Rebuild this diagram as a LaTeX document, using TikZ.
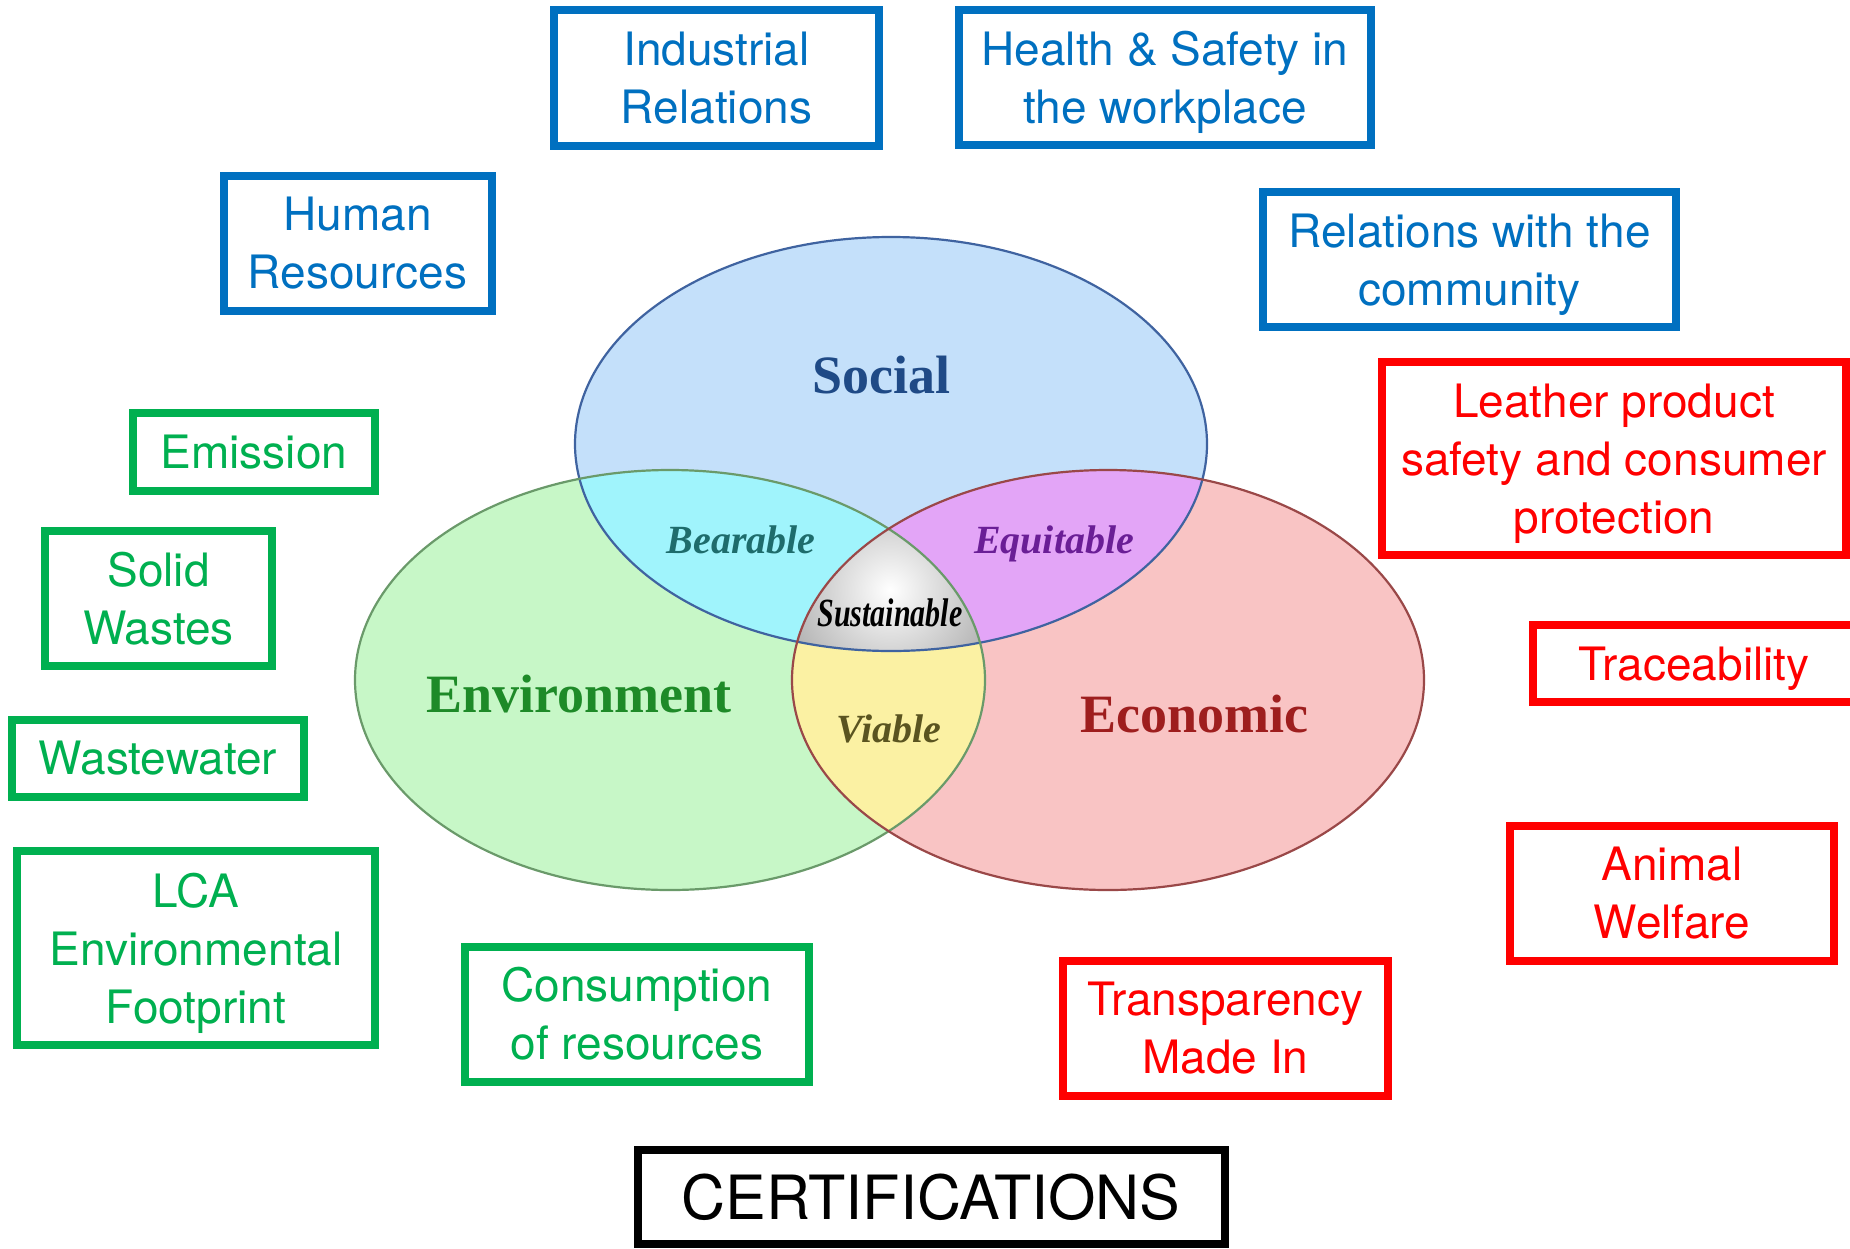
\documentclass[tikz,border=0pt]{standalone}
\usepackage{fontspec}
\setmainfont{TeX Gyre Heros}
\newfontfamily\lblserif{Liberation Serif}
\newcommand\nodesc[1]{\raisebox{0pt}[\height][0pt]{#1}}
\definecolor{cblue}{HTML}{0070C0}
\definecolor{cgreen}{HTML}{00B050}
\definecolor{cred}{HTML}{FF0000}
\definecolor{socfill}{HTML}{C4E0FA}
\definecolor{envfill}{HTML}{C7F7C7}
\definecolor{ecofill}{HTML}{F9C4C4}
\definecolor{bearfill}{HTML}{A0F4FC}
\definecolor{equifill}{HTML}{E3A5F7}
\definecolor{viafill}{HTML}{FBF1A3}
\definecolor{socline}{HTML}{3F63A0}
\definecolor{envline}{HTML}{6A9A6A}
\definecolor{ecoline}{HTML}{9A4848}
\definecolor{soctext}{HTML}{1F4A86}
\definecolor{envtext}{HTML}{1E8A28}
\definecolor{ecotext}{HTML}{9E1E1E}
\definecolor{beartext}{HTML}{1E6C6C}
\definecolor{equitext}{HTML}{6A1E96}
\definecolor{viatext}{HTML}{5A5420}
\tikzset{
  bx/.style={draw, line width=8pt, inner sep=0pt, align=center,
             font=\fontsize{46}{58}\selectfont},
  bluebox/.style={bx, draw=cblue, text=cblue},
  greenbox/.style={bx, draw=cgreen, text=cgreen},
  redbox/.style={bx, draw=cred, text=cred},
  blackbox/.style={draw, line width=8pt, inner sep=0pt, text=black,
             font=\fontsize{61}{70}\selectfont},
  bigl/.style={font=\lblserif\bfseries\fontsize{54}{60}\selectfont, anchor=base},
  smalll/.style={font=\lblserif\bfseries\itshape\fontsize{40}{44}\selectfont, anchor=base},
}
\begin{document}
\begin{tikzpicture}[x=1pt,y=-1pt]
\useasboundingbox (0,0) rectangle (1850,1248);
\clip (0,0) rectangle (1850,1248);
\fill[white] (0,0) rectangle (1850,1248);
% ---- Venn diagram ----
\coordinate (cs) at (891,444);
\coordinate (ce) at (670,680);
\coordinate (ck) at (1108,680);
\fill[socfill] (cs) ellipse [x radius=316, y radius=207];
\fill[envfill] (ce) ellipse [x radius=315, y radius=210];
\fill[ecofill] (ck) ellipse [x radius=316, y radius=210];
\begin{scope}
  \clip (cs) ellipse [x radius=316, y radius=207];
  \fill[bearfill] (ce) ellipse [x radius=315, y radius=210];
  \fill[equifill] (ck) ellipse [x radius=316, y radius=210];
\end{scope}
\begin{scope}
  \clip (ce) ellipse [x radius=315, y radius=210];
  \fill[viafill] (ck) ellipse [x radius=316, y radius=210];
\end{scope}
\begin{scope}
  \clip (cs) ellipse [x radius=316, y radius=207];
  \clip (ce) ellipse [x radius=315, y radius=210];
  \clip (ck) ellipse [x radius=316, y radius=210];
  \shade[inner color=white, outer color=black!32] (890,590) circle [radius=115pt];
\end{scope}
\draw[socline, line width=2.2pt] (cs) ellipse [x radius=316, y radius=207];
\draw[envline, line width=2.2pt] (ce) ellipse [x radius=315, y radius=210];
\draw[ecoline, line width=2.2pt] (ck) ellipse [x radius=316, y radius=210];
% labels
\node[bigl, text=soctext] (lsoc) at (881,393) {Social};
\node[bigl, text=envtext] (lenv) at (579,712) {Environment};
\node[bigl, text=ecotext] (leco) at (1194,732) {Economic};
\node[smalll, text=beartext] (lbear) at (741,553) {Bearable};
\node[smalll, text=equitext] (lequi) at (1054,553) {Equitable};
\node[smalll, text=viatext] (lvia) at (889,742) {Viable};
\node[smalll, text=black, xscale=0.75] (lsust) at (890,626) {Sustainable};
% ---- boxes ----
\node[bluebox, minimum width=325pt, minimum height=136pt] (ind) at (716.5,78) {Industrial\\Relations};
\node[bluebox, minimum width=412pt, minimum height=135pt] (hs) at (1165,77.5) {Health \& Safety in\\\nodesc{the workplace}};
\node[bluebox, minimum width=268pt, minimum height=135pt] (hr) at (357.5,243) {Human\\Resources};
\node[bluebox, minimum width=413pt, minimum height=135pt] (rc) at (1469.5,259.5) {Relations with the\\\nodesc{community}};
\node[redbox, minimum width=464pt, minimum height=193pt] (lp) at (1614,458.5) {Leather product\\safety and consumer\\\nodesc{protection}};
\node[greenbox, minimum width=242pt, minimum height=78pt] (em) at (254,452) {Emission};
\node[greenbox, minimum width=227pt, minimum height=135pt] (sw) at (158.5,598.5) {Solid\\Wastes};
\node[redbox, minimum width=322pt, minimum height=77pt] (tr) at (1694,663.5) {\nodesc{Traceability}};
\node[greenbox, minimum width=292pt, minimum height=77pt] (ww) at (158,758.5) {Wastewater};
\node[redbox, minimum width=324pt, minimum height=135pt] (aw) at (1672,893.5) {Animal\\Welfare};
\node[greenbox, minimum width=358pt, minimum height=194pt] (lca) at (196,948) {LCA\\Environmental\\\nodesc{Footprint}};
\node[greenbox, minimum width=344pt, minimum height=135pt] (cr) at (636.8,1014) {Consumption\\of resources};
\node[redbox, minimum width=325pt, minimum height=135pt] (tm) at (1225.3,1028.4) {Transparency\\Made In};
\node[blackbox, minimum width=587pt, minimum height=94pt] (cert) at (931,1197) {CERTIFICATIONS};
\end{tikzpicture}
\end{document}
